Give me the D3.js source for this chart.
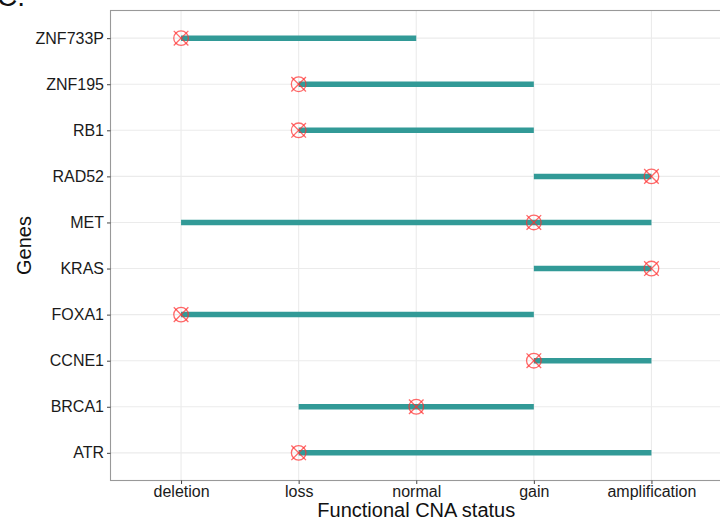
<!DOCTYPE html>
<html>
<head>
<meta charset="utf-8">
<script src="https://cdn.jsdelivr.net/npm/d3@7"></script>
<style>
  body { margin: 0; background: #fff; }
  text { font-family: "Liberation Sans", Arial, sans-serif; }
</style>
</head>
<body>
<script>
// chart size
var width = 720,
    height = 520;

// categories on each axis
var statuses = ['deletion', 'loss', 'normal', 'gain', 'amplification'];
var genes = ['ATR', 'BRCA1', 'CCNE1', 'FOXA1', 'KRAS', 'MET', 'RAD52', 'RB1', 'ZNF195', 'ZNF733P'];

// range of each gene (start / end status) and the marked status
var segStart = ['loss', 'loss', 'gain', 'deletion', 'gain', 'deletion', 'gain', 'loss', 'loss', 'deletion'];
var segEnd = ['amplification', 'gain', 'amplification', 'gain', 'amplification', 'amplification', 'amplification', 'gain', 'gain', 'normal'];
var marked = ['loss', 'normal', 'gain', 'deletion', 'amplification', 'gain', 'amplification', 'loss', 'loss', 'deletion'];

var margin = {top: 10.5, right: -2, bottom: 39.5, left: 110.5};

var svg = d3.select('body')
  .append('svg')
  .attr('width', width)
  .attr('height', height);

var pw = width - margin.left - margin.right,
    ph = height - margin.top - margin.bottom;

// discrete scales, ggplot style expansion of 0.6 on both sides
var x = d3.scalePoint().domain(statuses).range([0, pw]).padding(0.6);
var y = d3.scalePoint().domain(genes).range([ph, 0]).padding(0.6);

var g = svg.append('g')
  .attr('transform', 'translate(' + margin.left + ',' + margin.top + ')');

// grid lines
g.selectAll('.vgrid').data(statuses).enter().append('line')
  .attr('x1', function(d) { return x(d); })
  .attr('x2', function(d) { return x(d); })
  .attr('y1', 0).attr('y2', ph)
  .attr('stroke', '#ebebeb').attr('stroke-width', 1.1);
g.selectAll('.hgrid').data(genes).enter().append('line')
  .attr('y1', function(d) { return y(d); })
  .attr('y2', function(d) { return y(d); })
  .attr('x1', 0).attr('x2', pw)
  .attr('stroke', '#ebebeb').attr('stroke-width', 1.1);

// segments
g.selectAll('.seg').data(genes).enter().append('line')
  .attr('x1', function(d, i) { return x(segStart[i]); })
  .attr('x2', function(d, i) { return x(segEnd[i]); })
  .attr('y1', function(d) { return y(d); })
  .attr('y2', function(d) { return y(d); })
  .attr('stroke', '#329a97')
  .attr('stroke-width', 5.5);

// markers: circle with a cross
var marks = g.selectAll('.mark').data(genes).enter().append('g')
  .attr('transform', function(d, i) {
    return 'translate(' + x(marked[i]) + ',' + y(d) + ')';
  })
  .attr('stroke', '#ff3030')
  .attr('stroke-opacity', 0.72)
  .attr('stroke-width', 1.3)
  .attr('fill', 'none');
marks.append('circle').attr('r', 7.3);
marks.append('line').attr('x1', -7.3).attr('y1', -7.3).attr('x2', 7.3).attr('y2', 7.3);
marks.append('line').attr('x1', -7.3).attr('y1', 7.3).attr('x2', 7.3).attr('y2', -7.3);

// panel border
g.append('rect')
  .attr('width', pw).attr('height', ph)
  .attr('fill', 'none')
  .attr('stroke', '#999999')
  .attr('stroke-width', 1.1);

// axes
var xAxis = g.append('g')
  .attr('transform', 'translate(0,' + ph + ')')
  .call(d3.axisBottom(x).tickSize(3.5).tickPadding(1.8));
var yAxis = g.append('g')
  .call(d3.axisLeft(y).tickSize(3.5).tickPadding(3));

[xAxis, yAxis].forEach(function(a) {
  a.select('.domain').remove();
  a.selectAll('line').attr('stroke', '#444');
  a.selectAll('text')
    .style('font-size', '16px')
    .style('font-family', '"Liberation Sans", Arial, sans-serif')
    .attr('fill', '#1a1a1a');
});

// axis titles
svg.append('text')
  .attr('x', margin.left + x('normal'))
  .attr('y', 517)
  .attr('text-anchor', 'middle')
  .style('font-size', '20px')
  .attr('fill', '#111')
  .text('Functional CNA status');

svg.append('text')
  .attr('transform', 'translate(31,' + (margin.top + ph / 2) + ') rotate(-90)')
  .attr('text-anchor', 'middle')
  .style('font-size', '20px')
  .attr('fill', '#111')
  .text('Genes');

// panel tag, cut off at the top
svg.append('text')
  .attr('x', -3)
  .attr('y', 6)
  .style('font-size', '28px')
  .attr('fill', '#111')
  .text('C.');
</script>
</body>
</html>
